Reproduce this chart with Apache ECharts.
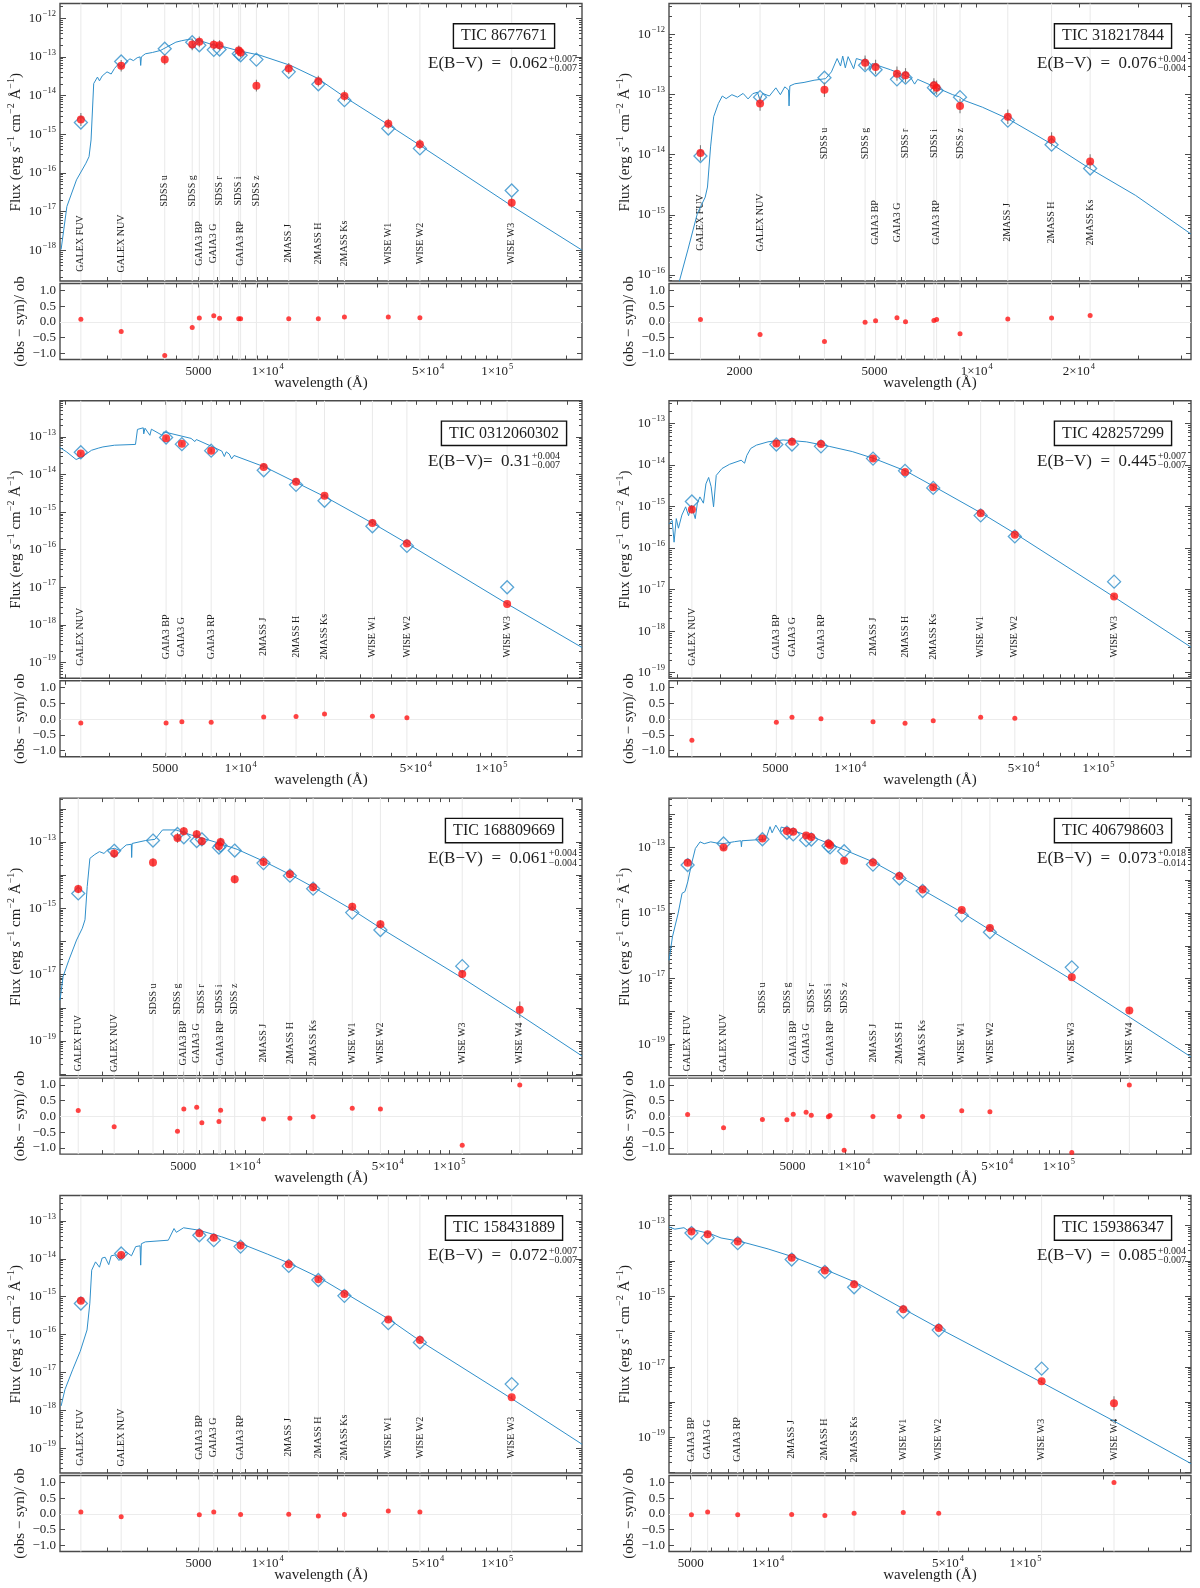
<!DOCTYPE html>
<html>
<head>
<meta charset="utf-8">
<script src="https://cdn.jsdelivr.net/npm/echarts@6/dist/echarts.min.js"></script>
<style>
html,body{margin:0;padding:0;background:#fff;}
#chart{width:1200px;height:1588px;}
</style>
</head>
<body>
<div id="chart"></div>
<script>
var FONT='"Liberation Serif","Times New Roman",serif';

// photometric bands and their wavelengths (A)
var bandNames=['GALEX FUV','GALEX NUV','SDSS u','SDSS g','GAIA3 BP','GAIA3 G','SDSS r','SDSS i','GAIA3 RP','SDSS z','2MASS J','2MASS H','2MASS Ks','WISE W1','WISE W2','WISE W3','WISE W4'];
var bandWaves=[1535,2300,3560,4690,5036,5822,6170,7480,7620,8930,12350,16620,21590,33526,46028,115608,220883];

// TIC 8677671
var p1Bands=['GALEX FUV','GALEX NUV','SDSS u','SDSS g','GAIA3 BP','GAIA3 G','SDSS r','SDSS i','GAIA3 RP','SDSS z','2MASS J','2MASS H','2MASS Ks','WISE W1','WISE W2','WISE W3'];
var p1Obs=[2.4e-15,5.9e-14,8.5e-14,2.1e-13,2.45e-13,2.05e-13,2.0e-13,1.47e-13,1.3e-13,1.8e-14,5.0e-14,2.35e-14,9.8e-15,1.87e-15,5.5e-16,1.7e-17];
var p1Syn=[2.0e-15,7.6e-14,1.63e-13,2.4e-13,2.0e-13,1.52e-13,1.55e-13,1.2e-13,1.1e-13,8.5e-14,4.1e-14,1.95e-14,7.6e-15,1.4e-15,4.3e-16,3.5e-17];
var p1Err=[0.17,0.15,0.13,0.15,0.14,0.13,0.13,0.13,0.13,0.15,0.14,0.14,0.14,0.13,0.13,0.13];
var p1Res=[0.08,-0.31,-1.07,-0.18,0.12,0.19,0.11,0.10,0.10,null,0.10,0.10,0.15,0.15,0.13,null];
var p1ModelWave=[1259,1334,1469,1615,1666,1700,1746,1813,1850,1900,1995,2080,2150,2239,2330,2420,2512,2600,2700,2780,2797,2815,2930,3150,3415,3700,3981,4200,4467,4643,4800,4900,5848,6500,7362,9268,12590,16480,21540,32850,44690,116700,234400];
var p1ModelFlux=[1.05e-18,1.35e-17,6.6e-17,1.78e-16,2.63e-16,7.1e-16,2.04e-14,3.0e-14,2.4e-14,3.2e-14,4.1e-14,3.6e-14,5.0e-14,6.6e-14,5.5e-14,7.5e-14,8.9e-14,8.0e-14,9.5e-14,1.0e-13,6.0e-14,1.0e-13,1.2e-13,1.3e-13,1.47e-13,1.9e-13,2.4e-13,2.6e-13,2.8e-13,2.9e-13,2.5e-13,2.8e-13,2.0e-13,1.8e-13,1.47e-13,1.1e-13,6.0e-14,2.8e-14,9.3e-15,1.9e-15,5.8e-16,1.35e-17,1.0e-18];

// TIC 318217844
var p2Bands=['GALEX FUV','GALEX NUV','SDSS u','SDSS g','GAIA3 BP','GAIA3 G','SDSS r','SDSS i','GAIA3 RP','SDSS z','2MASS J','2MASS H','2MASS Ks'];
var p2Obs=[1.07e-14,7.1e-14,1.21e-13,3.4e-13,2.9e-13,2.24e-13,2.1e-13,1.43e-13,1.31e-13,6.5e-14,4.3e-14,1.8e-14,7.7e-15];
var p2Syn=[9.5e-15,9.1e-14,1.92e-13,3.1e-13,2.6e-13,1.8e-13,1.92e-13,1.31e-13,1.18e-13,9.1e-14,3.7e-14,1.47e-14,5.9e-15];
var p2Err=[0.13,0.12,0.12,0.12,0.12,0.12,0.12,0.12,0.12,0.12,0.12,0.12,0.12];
var p2Res=[0.07,-0.40,-0.63,-0.01,0.03,0.13,0.00,0.04,0.07,-0.38,0.09,0.12,0.20];
var p2ModelWave=[1330,1409,1503,1585,1610,1644,1679,1733,1780,1827,1900,1974,2050,2120,2189,2260,2300,2340,2450,2560,2640,2720,2790,2800,2815,2911,3100,3318,3589,3733,3880,3970,4030,4101,4180,4340,4420,4773,4861,4920,5576,6400,6563,6700,7617,8500,8896,9200,10390,12330,16580,21520,29400,42760];
var p2ModelFlux=[7.8e-17,2.6e-16,1.05e-15,1.96e-15,2.9e-15,1.35e-14,4.3e-14,7.1e-14,9.5e-14,8.6e-14,1.0e-13,9.1e-14,1.05e-13,8.5e-14,1.04e-13,1.1e-13,8.0e-14,1.05e-13,9.5e-14,1.3e-13,1.0e-13,1.35e-13,1.2e-13,6.5e-14,1.4e-13,1.52e-13,1.6e-13,1.74e-13,1.85e-13,2.4e-13,4.0e-13,3.0e-13,4.4e-13,2.8e-13,4.3e-13,2.7e-13,4.0e-13,3.5e-13,2.6e-13,3.3e-13,2.6e-13,1.9e-13,1.5e-13,1.8e-13,1.31e-13,1.0e-13,9.2e-14,8.0e-14,6.2e-14,4.0e-14,1.52e-14,5.9e-15,2.1e-15,4.8e-16];

// TIC 0312060302
var p3Bands=['GALEX NUV','GAIA3 BP','GAIA3 G','GAIA3 RP','2MASS J','2MASS H','2MASS Ks','WISE W1','WISE W2','WISE W3'];
var p3Obs=[3.6e-14,9.2e-14,6.6e-14,4.3e-14,1.58e-14,6.4e-15,2.7e-15,5.1e-16,1.46e-16,3.6e-18];
var p3Syn=[3.9e-14,9.6e-14,6.4e-14,4.3e-14,1.29e-14,5.3e-15,2.0e-15,4.2e-16,1.26e-16,1.0e-17];
var p3Err=[0.05,0.05,0.05,0.05,0.05,0.05,0.05,0.05,0.05,0.05];
var p3Res=[-0.12,-0.12,-0.08,-0.10,0.07,0.08,0.16,0.09,0.04,null];
var p3ModelWave=[1897,2018,2203,2323,2538,2700,2818,3133,3802,3850,3871,4083,4101,4150,4340,4400,4861,4920,5129,6336,6563,6650,7743,8400,8600,8750,8995,9200,9400,12480,16830,21820,33870,46350,115900,230100];
var p3ModelFlux=[5.2e-14,4.0e-14,2.5e-14,2.9e-14,4.4e-14,5.0e-14,5.4e-14,6.0e-14,6.3e-14,6.4e-14,1.58e-13,1.74e-13,1.2e-13,1.7e-13,1.1e-13,1.6e-13,1.1e-13,1.35e-13,1.28e-13,9.1e-14,7.5e-14,8.5e-14,5.4e-14,4.2e-14,3.0e-14,4.0e-14,3.5e-14,2.6e-14,3.2e-14,1.58e-14,5.9e-15,2.5e-15,4.9e-16,1.44e-16,3.6e-18,2.5e-19];

// TIC 428257299
var p4Bands=['GALEX NUV','GAIA3 BP','GAIA3 G','GAIA3 RP','2MASS J','2MASS H','2MASS Ks','WISE W1','WISE W2','WISE W3'];
var p4Obs=[8.5e-16,3.3e-14,3.6e-14,3.2e-14,1.42e-14,6.8e-15,2.9e-15,6.9e-16,2.1e-16,6.8e-18];
var p4Syn=[1.32e-15,3.1e-14,3.1e-14,2.8e-14,1.42e-14,7.2e-15,2.8e-15,6.1e-16,1.9e-16,1.55e-17];
var p4Err=[0.10,0.06,0.06,0.06,0.06,0.06,0.06,0.06,0.06,0.06];
var p4Res=[-0.67,-0.10,0.06,0.01,-0.08,-0.13,-0.05,0.06,0.03,null];
var p4ModelWave=[1858,1916,1950,1990,2030,2096,2170,2230,2289,2373,2420,2477,2560,2620,2687,2750,2812,2883,3041,3266,3633,3750,3830,3971,4188,4660,5370,6650,8230,10180,12500,16870,22020,34060,46880,119100,236000];
var p4ModelFlux=[3.8e-16,4.6e-16,1.38e-16,5.1e-16,3.0e-16,6.2e-16,9.8e-16,6.0e-16,1.07e-15,5.1e-16,1.2e-15,1.7e-15,1.2e-15,3.5e-15,5.0e-15,3.0e-15,9.8e-16,5.6e-15,8.2e-15,1.04e-14,1.3e-14,1.1e-14,1.7e-14,2.5e-14,3.0e-14,3.6e-14,4.0e-14,3.6e-14,2.8e-14,2.1e-14,1.42e-14,7.0e-15,2.9e-15,6.7e-16,2.1e-16,5.9e-18,4.1e-19];

// TIC 168809669
var p5Bands=['GALEX FUV','GALEX NUV','SDSS u','SDSS g','GAIA3 BP','GAIA3 G','SDSS r','SDSS i','GAIA3 RP','SDSS z','2MASS J','2MASS H','2MASS Ks','WISE W1','WISE W2','WISE W3','WISE W4'];
var p5Obs=[3.8e-15,4.5e-14,2.4e-14,1.32e-13,2.1e-13,1.7e-13,1.05e-13,7.6e-14,1.0e-13,7.5e-15,2.5e-14,1.07e-14,4.3e-15,1.12e-15,3.3e-16,1.05e-17,8.7e-19];
var p5Syn=[2.8e-15,5.4e-14,1.1e-13,1.74e-13,1.38e-13,1.07e-13,1.2e-13,6.8e-14,7.8e-14,5.5e-14,2.3e-14,9.6e-15,3.9e-15,7.4e-16,2.2e-16,1.8e-17,null];
var p5Err=[0.13,0.13,0.13,0.15,0.13,0.13,0.13,0.13,0.13,0.13,0.12,0.12,0.12,0.12,0.12,0.12,0.25];
var p5Res=[0.19,-0.33,null,-0.47,0.24,0.29,-0.20,-0.16,0.20,null,-0.08,-0.06,-0.01,0.26,0.24,-0.92,1.0];
var p5ModelWave=[1250,1294,1380,1506,1607,1656,1698,1750,1850,1949,2050,2150,2312,2450,2634,2790,2800,2815,3266,3640,3963,4610,5470,7080,9180,12400,16760,21680,33650,46240,116100,221900,445600];
var p5ModelFlux=[1.7e-18,8.7e-18,2.7e-17,1.1e-16,2.5e-16,4.5e-16,4.5e-15,3.2e-14,4.2e-14,5.1e-14,4.5e-14,6.0e-14,6.4e-14,5.5e-14,8.1e-14,8.5e-14,3.4e-14,9.0e-14,1.1e-13,1.2e-13,2.3e-13,2.3e-13,1.62e-13,1.02e-13,6.0e-14,2.6e-14,1.02e-14,4.3e-15,8.9e-16,2.5e-16,7.8e-18,6.0e-19,3.5e-20];

// TIC 406798603
var p6Bands=['GALEX FUV','GALEX NUV','SDSS u','SDSS g','GAIA3 BP','GAIA3 G','SDSS r','SDSS i','GAIA3 RP','SDSS z','2MASS J','2MASS H','2MASS Ks','WISE W1','WISE W2','WISE W3','WISE W4'];
var p6Obs=[3.4e-14,1.0e-13,1.87e-13,3.2e-13,3.0e-13,2.3e-13,2.1e-13,1.32e-13,1.18e-13,3.9e-14,3.5e-14,1.34e-14,5.2e-15,1.23e-15,3.5e-16,1.1e-17,1.07e-18];
var p6Syn=[2.9e-14,1.32e-13,1.78e-13,2.8e-13,2.5e-13,1.67e-13,1.75e-13,1.12e-13,1.0e-13,7.7e-14,3.0e-14,1.13e-14,4.7e-15,8.5e-16,2.6e-16,2.2e-17,null];
var p6Err=[0.06,0.06,0.06,0.06,0.06,0.06,0.06,0.06,0.06,0.06,0.06,0.06,0.06,0.06,0.06,0.06,0.10];
var p6Res=[0.06,-0.36,-0.10,-0.11,0.07,0.13,0.04,-0.01,0.03,-1.08,0.0,0.0,0.0,0.18,0.15,-1.15,1.0];
var p6ModelWave=[1245,1294,1380,1442,1490,1537,1607,1675,1766,1850,1991,2150,2312,2600,2795,2812,2830,3483,3700,3880,3970,4140,4340,4400,4920,6370,8240,12400,16760,21680,33810,46240,116700,222900,441600];
var p6ModelFlux=[3.6e-17,1.87e-16,9.8e-16,4.0e-15,4.5e-15,8.9e-15,3.3e-14,9.3e-14,1.48e-13,1.3e-13,1.48e-13,1.35e-13,1.32e-13,1.5e-13,1.6e-13,1.05e-13,1.6e-13,1.74e-13,1.8e-13,4.3e-13,2.8e-13,4.8e-13,3.0e-13,4.2e-13,3.4e-13,2.0e-13,1.05e-13,3.6e-14,1.27e-14,5.0e-15,1.02e-15,3.0e-16,8.9e-18,6.5e-19,4.1e-20];

// TIC 158431889
var p7Bands=['GALEX FUV','GALEX NUV','GAIA3 BP','GAIA3 G','GAIA3 RP','2MASS J','2MASS H','2MASS Ks','WISE W1','WISE W2','WISE W3'];
var p7Obs=[7.8e-16,1.26e-14,4.7e-14,3.6e-14,2.24e-14,7.2e-15,2.9e-15,1.17e-15,2.5e-16,7.2e-17,2.2e-18];
var p7Syn=[6.6e-16,1.38e-14,4.2e-14,3.1e-14,2.1e-14,6.5e-15,2.75e-15,1.05e-15,2.0e-16,6.2e-17,4.9e-18];
var p7Err=[0.06,0.06,0.05,0.05,0.05,0.05,0.05,0.05,0.05,0.05,0.05];
var p7Res=[0.06,-0.09,-0.03,0.06,-0.02,-0.01,-0.07,-0.02,0.09,0.06,null];
var p7ModelWave=[1259,1308,1413,1525,1633,1679,1711,1778,1850,1900,1958,2030,2080,2154,2250,2415,2550,2660,2780,2797,2815,2930,3690,3908,4000,4300,5012,6310,7943,10000,12450,16730,21800,33880,46420,117500,234400];
var p7ModelFlux=[1.3e-18,3.5e-18,1.17e-17,3.6e-17,1.32e-16,6.6e-16,5.0e-15,8.3e-15,6.0e-15,1.05e-14,1.1e-14,7.0e-15,1.2e-14,1.26e-14,9.0e-15,1.52e-14,1.2e-14,2.1e-14,2.2e-14,6.8e-15,2.5e-14,2.8e-14,3.1e-14,6.3e-14,5.0e-14,6.6e-14,5.7e-14,3.8e-14,2.3e-14,1.32e-14,7.6e-15,3.2e-15,1.23e-15,2.5e-16,6.6e-17,1.9e-18,1.26e-19];

// TIC 159386347
var p8Bands=['GAIA3 BP','GAIA3 G','GAIA3 RP','2MASS J','2MASS H','2MASS Ks','WISE W1','WISE W2','WISE W3','WISE W4'];
var p8Obs=[6.9e-14,5.7e-14,3.6e-14,1.24e-14,5.4e-15,2.2e-15,4.3e-16,1.26e-16,3.9e-18,9.3e-19];
var p8Syn=[6.2e-14,4.6e-14,3.2e-14,1.1e-14,4.9e-15,1.8e-15,3.6e-16,1.1e-16,8.9e-18,null];
var p8Err=[0.05,0.05,0.05,0.05,0.05,0.05,0.05,0.05,0.05,0.2];
var p8Res=[-0.03,0.06,-0.03,-0.02,-0.05,0.02,0.04,0.02,null,1.0];
var p8ModelWave=[4121,4340,4400,4710,4861,4900,5128,5980,6563,6650,7785,10000,12590,16900,21830,33960,46450,116700,222900,440600];
var p8ModelFlux=[9.2e-14,8.0e-14,9.0e-14,8.8e-14,7.5e-14,8.4e-14,7.7e-14,5.9e-14,4.5e-14,5.0e-14,3.6e-14,2.2e-14,1.29e-14,5.5e-15,2.5e-15,4.2e-16,1.2e-16,3.5e-18,2.8e-19,1.8e-20];

// residual axis tick labels
var resTicks=[-1.0,-0.5,0.0,0.5,1.0];

var panels=[
  {tic:'TIC 8677671',ebv:'0.062',up:'+0.007',dn:'\u22120.007',sep:'  =  ',bands:p1Bands,obs:p1Obs,syn:p1Syn,err:p1Err,res:p1Res,mw:p1ModelWave,mf:p1ModelFlux,xMin:1245,xMax:2.34e5,yMin:1.6e-19,yMax:2.4e-12,yStep:1,xLabels:[5000,1e4,5e4,1e5],offUp:187.5,offLo:240},
  {tic:'TIC 318217844',ebv:'0.076',up:'+0.004',dn:'\u22120.004',sep:'  =  ',bands:p2Bands,obs:p2Obs,syn:p2Syn,err:p2Err,res:p2Res,mw:p2ModelWave,mf:p2ModelFlux,xMin:1240,xMax:4.28e4,yMin:7.9e-17,yMax:3.3e-12,yStep:1,xLabels:[2000,5000,1e4,2e4],offUp:140,offLo:219},
  {tic:'TIC 0312060302',ebv:'0.31',up:'+0.004',dn:'\u22120.007',sep:'=  ',bands:p3Bands,obs:p3Obs,syn:p3Syn,err:p3Err,res:p3Res,mw:p3ModelWave,mf:p3ModelFlux,xMin:1900,xMax:2.3e5,yMin:3.8e-20,yMax:9.1e-13,yStep:1,xLabels:[5000,1e4,5e4,1e5],offUp:0,offLo:236},
  {tic:'TIC 428257299',ebv:'0.445',up:'+0.007',dn:'\u22120.007',sep:'  =  ',bands:p4Bands,obs:p4Obs,syn:p4Syn,err:p4Err,res:p4Res,mw:p4ModelWave,mf:p4ModelFlux,xMin:1860,xMax:2.36e5,yMin:7.3e-20,yMax:3.5e-13,yStep:1,xLabels:[5000,1e4,5e4,1e5],offUp:0,offLo:236},
  {tic:'TIC 168809669',ebv:'0.061',up:'+0.004',dn:'\u22120.004',sep:'  =  ',bands:p5Bands,obs:p5Obs,syn:p5Syn,err:p5Err,res:p5Res,mw:p5ModelWave,mf:p5ModelFlux,xMin:1250,xMax:4.45e5,yMin:9e-21,yMax:2.1e-12,yStep:2,xLabels:[5000,1e4,5e4,1e5],offUp:201,offLo:245},
  {tic:'TIC 406798603',ebv:'0.073',up:'+0.018',dn:'\u22120.014',sep:'  =  ',bands:p6Bands,obs:p6Obs,syn:p6Syn,err:p6Err,res:p6Res,mw:p6ModelWave,mf:p6ModelFlux,xMin:1245,xMax:4.42e5,yMin:1.1e-20,yMax:3.2e-12,yStep:2,xLabels:[5000,1e4,5e4,1e5],offUp:200,offLo:245},
  {tic:'TIC 158431889',ebv:'0.072',up:'+0.007',dn:'\u22120.007',sep:'  =  ',bands:p7Bands,obs:p7Obs,syn:p7Syn,err:p7Err,res:p7Res,mw:p7ModelWave,mf:p7ModelFlux,xMin:1245,xMax:2.34e5,yMin:2.2e-20,yMax:4.7e-13,yStep:1,xLabels:[5000,1e4,5e4,1e5],offUp:0,offLo:242},
  {tic:'TIC 159386347',ebv:'0.085',up:'+0.004',dn:'\u22120.007',sep:'  =  ',bands:p8Bands,obs:p8Obs,syn:p8Syn,err:p8Err,res:p8Res,mw:p8ModelWave,mf:p8ModelFlux,xMin:4120,xMax:4.4e5,yMin:9.8e-21,yMax:7.2e-13,yStep:2,xLabels:[5000,1e4,5e4,1e5],offUp:0,offLo:244}
];

var rowTops=[3.5,400.8,798.1,1195.5];
var colLefts=[60,669];
var PW=522, PH=277.5, RH=76;
var BLUE='#2f8fca', RED='#ff1414', FRAME='#4a4a4a', TXT='#1e1e1e';

var mctx=document.createElement('canvas').getContext('2d');
function textW(s,font){ mctx.font=font; return mctx.measureText(s).width; }

function bandWave(n){ return bandWaves[bandNames.indexOf(n)]; }

function xTickVals(a,b){
  var out=[];
  for(var e=3;e<=5;e++) for(var m=1;m<=9;m++){ var v=m*Math.pow(10,e); if(v>=a&&v<=b) out.push(v); }
  return out;
}
function yDecades(a,b){
  var out=[];
  for(var e=-21;e<=-11;e++){ var v=Math.pow(10,e); if(v>=a&&v<=b) out.push(v); }
  return out;
}
function yMinors(a,b){
  var out=[];
  for(var e=-21;e<=-11;e++) for(var m=2;m<=9;m++){ var v=m*Math.pow(10,e); if(v>=a&&v<=b) out.push(v); }
  return out;
}
function supText(n){ return n<0 ? '\u2212'+(-n) : ''+n; }

var supRich={
  a:{fontFamily:FONT,fontSize:13,color:TXT,lineHeight:18},
  s:{fontFamily:FONT,fontSize:8.5,color:TXT,verticalAlign:'top',lineHeight:18,padding:[0,0,0,1]}
};

function yLabelFmt(v){ var e=Math.round(Math.log10(v)); return '{a|10}{s|'+supText(e)+'}'; }
function xLabelFmt(v){
  if(v<1e4) return '{a|'+Math.round(v)+'}';
  var e=Math.floor(Math.log10(v)+1e-9), m=Math.round(v/Math.pow(10,e));
  return '{a|'+m+'\u00d710}{s|'+e+'}';
}

function vlineRender(params,api){
  var cs=params.coordSys, p=api.coord([api.value(0),api.value(1)]);
  return {type:'line',shape:{x1:p[0],y1:cs.y,x2:p[0],y2:cs.y+cs.height},style:{stroke:'#e9e9e9',lineWidth:1}};
}
function errRender(params,api){
  var x=api.value(0), y=api.value(1), e=api.value(2);
  var lo=api.coord([x,y*Math.pow(10,-e)]), hi=api.coord([x,y*Math.pow(10,e)]);
  return {type:'line',shape:{x1:lo[0],y1:lo[1],x2:hi[0],y2:hi[1]},style:{stroke:'#7d7d7d',lineWidth:1.1}};
}
function makeLabelRender(names,offs){
  return function(params,api){
    var cs=params.coordSys, p=api.coord([api.value(0),api.value(1)]);
    return {type:'text',x:p[0],y:cs.y+offs[params.dataIndex],rotation:Math.PI/2,
      style:{text:names[params.dataIndex],font:'10px '+FONT,fill:TXT,align:'center',verticalAlign:'middle'}};
  };
}

var grid=[], xAxis=[], yAxis=[], series=[], graphic=[];

panels.forEach(function(P,k){
  var left=colLefts[k%2], top=rowTops[Math.floor(k/2)];
  var rtop=top+280;
  var gM=grid.length;
  grid.push({left:left,top:top,width:PW,height:PH,show:true,borderColor:FRAME,borderWidth:1.4,outerBoundsMode:'none'});
  var gR=grid.length;
  grid.push({left:left,top:rtop,width:PW,height:RH,show:true,borderColor:FRAME,borderWidth:1.4,outerBoundsMode:'none'});

  var xt=xTickVals(P.xMin,P.xMax);
  var dec=yDecades(P.yMin,P.yMax);
  var decLab=dec.filter(function(v){ return P.yStep===1 || Math.abs(Math.round(Math.log10(v)))%2===1; });
  var mino=yMinors(P.yMin,P.yMax);

  function xAx(g,pos,labels){
    var ax={gridIndex:g,type:'log',logBase:10,min:P.xMin,max:P.xMax,position:pos,
      axisLine:{show:false,onZero:false},splitLine:{show:false},
      axisTick:{show:true,inside:true,length:4,customValues:xt,lineStyle:{color:FRAME,width:1}},
      axisLabel:{show:false}};
    if(labels){
      ax.axisLabel={show:true,customValues:P.xLabels,formatter:xLabelFmt,rich:supRich,margin:3,hideOverlap:false};
      ax.name='wavelength (\u00c5)'; ax.nameLocation='middle'; ax.nameGap=16;
      ax.nameTextStyle={fontFamily:FONT,fontSize:15,color:TXT}; ax.nameMoveOverlap=false;
    }
    return ax;
  }
  var xMB=xAxis.length; xAxis.push(xAx(gM,'bottom',false));
  xAxis.push(xAx(gM,'top',false));
  var xRB=xAxis.length; xAxis.push(xAx(gR,'bottom',true));
  xAxis.push(xAx(gR,'top',false));

  function yLog(pos,major,labels){
    var ax={gridIndex:gM,type:'log',logBase:10,min:P.yMin,max:P.yMax,position:pos,
      axisLine:{show:false,onZero:false},splitLine:{show:false},
      axisTick:{show:true,inside:true,length:major?6:3,customValues:major?dec:mino,lineStyle:{color:FRAME,width:1}},
      axisLabel:{show:false}};
    if(labels){
      ax.axisLabel={show:true,customValues:decLab,formatter:yLabelFmt,rich:supRich,margin:4,hideOverlap:false};
      ax.name='{n|Flux (erg }{i|s}{p|\u22121}{n| cm}{p|\u22122}{n| \u00c5}{p|\u22121}{n|)}';
      ax.nameLocation='middle'; ax.nameRotate=90; ax.nameGap=34; ax.nameMoveOverlap=false;
      ax.nameTextStyle={fontFamily:FONT,fontSize:15,color:TXT,rich:{
        n:{fontFamily:FONT,fontSize:15,color:TXT,lineHeight:20},
        i:{fontFamily:FONT,fontSize:15,fontStyle:'italic',color:TXT,lineHeight:20},
        p:{fontFamily:FONT,fontSize:10,color:TXT,verticalAlign:'top',lineHeight:20}}};
    }
    return ax;
  }
  var yML=yAxis.length; yAxis.push(yLog('left',true,true));
  yAxis.push(yLog('left',false,false));
  yAxis.push(yLog('right',true,false));
  yAxis.push(yLog('right',false,false));

  function yRes(pos,labels){
    var ax={gridIndex:gR,type:'value',min:-1.2,max:1.22,position:pos,
      axisLine:{show:false,onZero:false},splitLine:{show:false},
      axisTick:{show:true,inside:true,length:5,customValues:resTicks,lineStyle:{color:FRAME,width:1}},
      axisLabel:{show:false}};
    if(labels){
      ax.axisLabel={show:true,customValues:resTicks,margin:4,fontFamily:FONT,fontSize:13,color:TXT,
        formatter:function(v){ return v.toFixed(1).replace('-','\u2212'); }};
      ax.name='(obs \u2212 syn)/ ob'; ax.nameLocation='middle'; ax.nameRotate=90; ax.nameGap=32; ax.nameMoveOverlap=false;
      ax.nameTextStyle={fontFamily:FONT,fontSize:15,color:TXT};
    }
    return ax;
  }
  var yRL=yAxis.length; yAxis.push(yRes('left',true));
  yAxis.push(yRes('right',false));

  var waves=P.bands.map(bandWave);
  var offs=P.bands.map(function(n){ return n.indexOf('SDSS')===0 ? P.offUp : P.offLo; });

  // main panel
  series.push({type:'custom',xAxisIndex:xMB,yAxisIndex:yML,silent:true,z:1,
    data:waves.map(function(w){ return [w,P.yMin]; }),renderItem:vlineRender});
  series.push({type:'custom',xAxisIndex:xMB,yAxisIndex:yML,silent:true,z:2,
    data:waves.map(function(w){ return [w,P.yMin]; }),renderItem:makeLabelRender(P.bands,offs)});
  series.push({type:'line',xAxisIndex:xMB,yAxisIndex:yML,silent:true,z:3,showSymbol:false,symbol:'none',
    clip:true,lineStyle:{color:BLUE,width:1},
    data:P.mw.map(function(w,i){ return [w,P.mf[i]]; })});
  series.push({type:'scatter',xAxisIndex:xMB,yAxisIndex:yML,silent:true,z:4,symbol:'diamond',symbolSize:13,
    itemStyle:{color:'rgba(0,0,0,0)',borderColor:BLUE,borderWidth:1.3},
    data:waves.map(function(w,i){ return P.syn[i]==null?null:[w,P.syn[i]]; }).filter(function(d){return d;})});
  series.push({type:'custom',xAxisIndex:xMB,yAxisIndex:yML,silent:true,z:5,
    data:waves.map(function(w,i){ return [w,P.obs[i],P.err[i]]; }),renderItem:errRender});
  series.push({type:'scatter',xAxisIndex:xMB,yAxisIndex:yML,silent:true,z:6,symbol:'circle',symbolSize:8,
    itemStyle:{color:RED},data:waves.map(function(w,i){ return [w,P.obs[i]]; })});

  // residual panel
  series.push({type:'custom',xAxisIndex:xRB,yAxisIndex:yRL,silent:true,z:1,
    data:waves.map(function(w){ return [w,0]; }),renderItem:vlineRender});
  series.push({type:'scatter',xAxisIndex:xRB,yAxisIndex:yRL,silent:true,z:5,symbol:'circle',symbolSize:5,
    itemStyle:{color:RED},
    data:waves.map(function(w,i){ return P.res[i]==null?null:[w,P.res[i]]; }).filter(function(d){return d;}),
    markLine:{silent:true,symbol:['none','none'],label:{show:false},z:1,
      lineStyle:{color:'#ececec',type:'solid',width:1},data:[{yAxis:0}]}});

  // annotations
  graphic.push({type:'text',x:left+444,y:top+32.5,z:50,
    style:{text:P.tic,font:'16px '+FONT,fill:TXT,align:'center',verticalAlign:'middle',
      padding:[4,7,3,7],borderColor:'#111',borderWidth:1.4,backgroundColor:'#fff'}});
  var mainTxt='E(B\u2212V)'+P.sep+P.ebv, mainFont='17px '+FONT;
  var tx=left+368, ty=top+60.5, w=textW(mainTxt,mainFont);
  graphic.push({type:'text',x:tx,y:ty,z:50,style:{text:mainTxt,font:mainFont,fill:TXT,align:'left',verticalAlign:'middle'}});
  graphic.push({type:'text',x:tx+w+1,y:ty-5,z:50,style:{text:P.up,font:'10px '+FONT,fill:TXT,align:'left',verticalAlign:'middle'}});
  graphic.push({type:'text',x:tx+w+1,y:ty+4.5,z:50,style:{text:P.dn,font:'10px '+FONT,fill:TXT,align:'left',verticalAlign:'middle'}});
});

var chart=echarts.init(document.getElementById('chart'),null,{renderer:'canvas'});
chart.setOption({
  backgroundColor:'#ffffff',
  animation:false,
  textStyle:{fontFamily:FONT},
  grid:grid,
  xAxis:xAxis,
  yAxis:yAxis,
  series:series,
  graphic:graphic
});
</script>
</body>
</html>
